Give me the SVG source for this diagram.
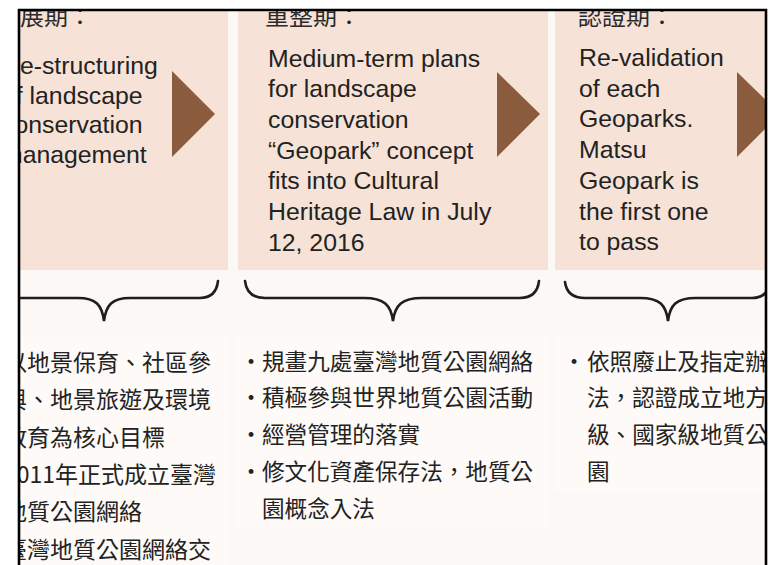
<svg xmlns="http://www.w3.org/2000/svg" width="776" height="565" viewBox="0 0 776 565">
  <defs>
    <clipPath id="frameClip"><rect x="19" y="10" width="747" height="560"/></clipPath>
    <style>
      .panel { fill: #f6e2d7; }
      .low { fill: #fdfaf8; }
      .tri { fill: #8b5b3d; }
      .hd { font-family: "Noto Sans CJK TC", "Noto Sans CJK SC", sans-serif; font-size: 24px; fill: #2a2a2a; }
      .en { font-family: "Liberation Sans", Arial, sans-serif; font-size: 24.8px; fill: #222; }
      .zh { font-family: "Noto Sans CJK TC", "Noto Sans CJK SC", sans-serif; font-size: 22.6px; fill: #222; }
      .brace { fill: none; stroke: #1e1e1e; stroke-width: 2.6; stroke-linecap: round; }
      .frame { fill: none; stroke: #000; stroke-width: 2.6; }
    </style>
  </defs>
  <rect x="0" y="0" width="776" height="565" fill="#ffffff"/>
  <g clip-path="url(#frameClip)">
    <rect x="0" y="0" width="776" height="565" fill="#fbf8f5"/>
    <g id="stage1">
      <rect class="panel" x="-40" y="0" width="268" height="270"/>
      <rect class="low" x="-40" y="335" width="269" height="240"/>
      <text class="hd" x="20" y="24.5">展期：</text>
      <text class="en" x="2"><tspan x="2" y="74">Re-structuring</tspan><tspan x="2" y="103.7">of landscape</tspan><tspan x="2" y="133.4">conservation</tspan><tspan x="2" y="163.1">management</tspan></text>
      <polygon class="tri" points="172,71 215,114 172,157"/>
      <text class="zh" style="font-size:23px" x="4"><tspan x="4" y="371">以地景保育、社區參</tspan><tspan x="4" y="408.3">與、地景旅遊及環境</tspan><tspan x="4" y="445.6">教育為核心目標</tspan><tspan x="4" y="482.9">2011年正式成立臺灣</tspan><tspan x="4" y="520.2">地質公園網絡</tspan><tspan x="4" y="557.5">臺灣地質公園網絡交</tspan></text>
    </g>
    <g id="stage2">
      <rect class="panel" x="238" y="0" width="310" height="270"/>
      <rect class="low" x="236" y="335" width="312" height="192"/>
      <text class="hd" x="265" y="24.5">重整期：</text>
      <text class="en" x="268"><tspan x="268" y="66.5">Medium-term plans</tspan><tspan x="268" y="97.2">for landscape</tspan><tspan x="268" y="127.9">conservation</tspan><tspan x="268" y="158.6">“Geopark” concept</tspan><tspan x="268" y="189.3">fits into Cultural</tspan><tspan x="268" y="220">Heritage Law in July</tspan><tspan x="268" y="250.7">12, 2016</tspan></text>
      <polygon class="tri" points="497,72 540,114 497,157"/>
      <g class="zh">
        <text x="251" y="369.5" text-anchor="middle">・</text>
        <text x="251" y="406.3" text-anchor="middle">・</text>
        <text x="251" y="443.1" text-anchor="middle">・</text>
        <text x="251" y="479.9" text-anchor="middle">・</text>
        <text x="262" y="369.5">規畫九處臺灣地質公園網絡</text>
        <text x="262" y="406.3">積極參與世界地質公園活動</text>
        <text x="262" y="443.1">經營管理的落實</text>
        <text x="262" y="479.9">修文化資產保存法，地質公</text>
        <text x="262" y="516.7">園概念入法</text>
      </g>
    </g>
    <g id="stage3">
      <rect class="panel" x="555" y="0" width="230" height="270"/>
      <rect class="low" x="555" y="335" width="230" height="157"/>
      <text class="hd" x="578" y="24.5">認證期：</text>
      <text class="en" x="579"><tspan x="579" y="66">Re-validation</tspan><tspan x="579" y="96.7">of each</tspan><tspan x="579" y="127.4">Geoparks.</tspan><tspan x="579" y="158.1">Matsu</tspan><tspan x="579" y="188.8">Geopark is</tspan><tspan x="579" y="219.5">the first one</tspan><tspan x="579" y="250.2">to pass</tspan></text>
      <polygon class="tri" points="737,72 780,114 737,157"/>
      <g class="zh">
        <text x="574" y="369.5" text-anchor="middle">・</text>
        <text x="587" y="369.5">依照廢止及指定辦</text>
        <text x="587" y="406.3">法，認證成立地方</text>
        <text x="587" y="443.1">級、國家級地質公</text>
        <text x="587" y="479.9">園</text>
      </g>
    </g>
    <g id="connectors">
      <path class="brace" d="M-12,281 Q-10,298 8,298 L78,298 C96,298 102,305 104,321 C106,305 112,298 130,298 L200,298 Q216,298 218,281"/>
      <path class="brace" d="M245,281 Q247,298 265,298 L364,298 C384,298 391,305 393,321 C395,305 402,298 422,298 L520,298 Q537,298 539,281"/>
      <path class="brace" d="M565,282 Q567,298 585,298 L640,298 C660,298 666,305 668,321 C670,305 676,298 696,298 L752,298 Q768,298 770,281"/>
    </g>
  </g>
  <g id="frame">
    <path class="frame" d="M19,575 L19,10 L766,10 L766,575"/>
  </g>
</svg>
